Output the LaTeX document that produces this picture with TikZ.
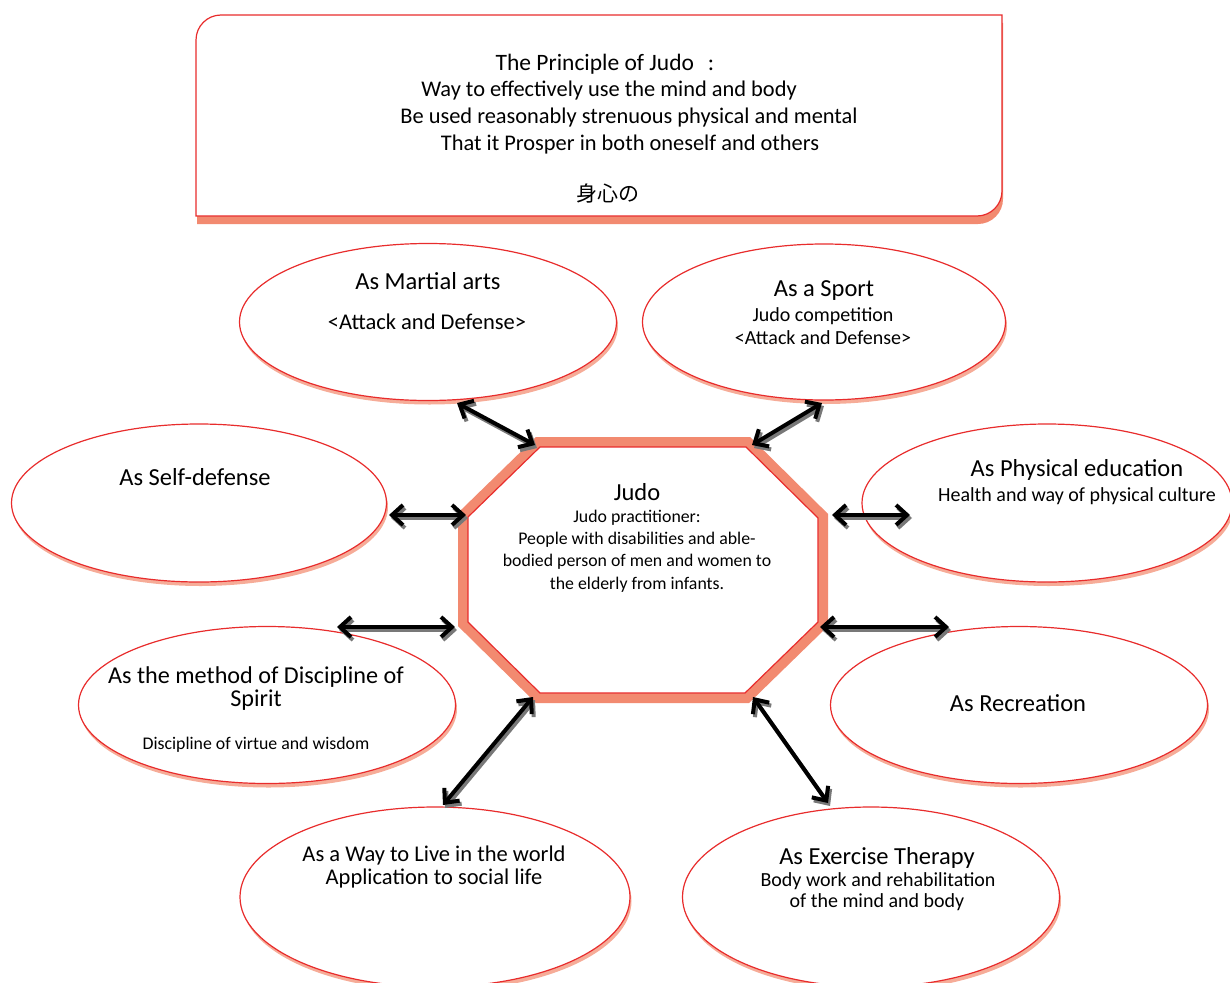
\documentclass[tikz,border=0pt]{standalone}
\usepackage{fontspec}
\setmainfont{Carlito}
\newfontfamily\cjk{Noto Sans CJK JP}
\usetikzlibrary{shapes.geometric,arrows.meta,shadows}
\definecolor{salmon}{RGB}{242,138,112}
\definecolor{shadowsalmon}{RGB}{246,172,152}
\definecolor{redline}{RGB}{232,44,44}
\definecolor{arrgray}{RGB}{120,120,120}
\tikzset{
 ell/.style={ellipse, draw=redline, line width=1.2pt, fill=white, inner sep=0pt,
   drop shadow={shadow xshift=1.5pt, shadow yshift=-4pt, fill=shadowsalmon, opacity=1}},
 head/.style={font=\fontsize{22.4}{26}\selectfont, inner sep=0pt, anchor=center},
 big/.style={font=\fontsize{24.5}{28}\selectfont, inner sep=0pt, anchor=center},
 mid/.style={font=\fontsize{20}{24}\selectfont, inner sep=0pt, anchor=center},
 sml/.style={font=\fontsize{17.8}{21}\selectfont, inner sep=0pt, anchor=center},
 biarrow/.style={line width=4pt, {Straight Barb[length=11pt,width=20pt]}-{Straight Barb[length=11pt,width=20pt]}},
 arrshade/.style={biarrow, draw=arrgray},
}
\newcommand\twoway[2]{%
 \draw[arrshade, transform canvas={shift={(2pt,-3pt)}}] (#1) -- (#2);
 \draw[biarrow] (#1) -- (#2);}
\begin{document}
\begin{tikzpicture}[x=1pt,y=-1pt]
\useasboundingbox (0,0) rectangle (1230,982);
% top box
\begin{scope}[shift={(1,8)}]
\fill[salmon] (196,216) -- (196,40) .. controls (196,26.2) and (207.2,15) .. (221,15) -- (1002,15) -- (1002,191) .. controls (1002,204.8) and (990.8,216) .. (977,216) -- cycle;
\end{scope}
\draw[redline, line width=1.2pt, fill=white] (196,216) -- (196,40) .. controls (196,26.2) and (207.2,15) .. (221,15) -- (1002,15) -- (1002,191) .. controls (1002,204.8) and (990.8,216) .. (977,216) -- cycle;
\node[head, font=\fontsize{23.5}{26}\selectfont] (p1) at (605,64) {The Principle of Judo\hspace{14pt}:};
\node[head] (p2) at (609,91) {Way to effectively use the mind and body};
\node[head] (p3) at (629,118) {Be used reasonably strenuous physical and mental};
\node[head] (p4) at (630,145) {That it Prosper in both oneself and others};
\node[head, font=\cjk\fontsize{21}{24}\selectfont] (p5) at (608,193) {身心の};
% ellipses
\node[ell, minimum width=377, minimum height=157] (ma) at (428,322) {};
\node[ell, minimum width=363, minimum height=156] (sp) at (824,322) {};
\node[ell, minimum width=375, minimum height=158] (sd) at (199,503) {};
\node[ell, minimum width=370, minimum height=158] (pe) at (1047,503) {};
\node[ell, minimum width=377, minimum height=157] (di) at (267,705) {};
\node[ell, minimum width=377, minimum height=157] (re) at (1019,705) {};
\node[ell, minimum width=390, minimum height=180] (wl) at (435,897) {};
\node[ell, minimum width=377, minimum height=180] (et) at (871,897) {};
% ellipse texts
\node[big] (ma1) at (428,281) {As Martial arts};
\node[mid, font=\fontsize{22.5}{26}\selectfont] (ma2) at (427,322) {<Attack and Defense>};
\node[big] (sp1) at (824,291) {As a Sport};
\node[mid] (sp2) at (823,316) {Judo competition};
\node[mid] (sp3) at (823,338) {<Attack and Defense>};
\node[big] (sd1) at (195,477) {As Self-defense};
\node[big] (pe1) at (1077,470) {As Physical education};
\node[mid] (pe2) at (1077,496) {Health and way of physical culture};
\node[big, align=center, font=\fontsize{24.2}{23}\selectfont] (di1) at (256,689) {As the method of Discipline of\\Spirit};
\node[sml] (di3) at (256,745) {Discipline of virtue and wisdom};
\node[big] (re1) at (1018,703) {As Recreation};
\node[big, align=center, font=\fontsize{22.5}{22.5}\selectfont] (wl1) at (434,867) {As a Way to Live in the world\\Application to social life};
\node[big] (et1) at (877,858) {As Exercise Therapy};
\node[mid] (et2) at (878,881) {Body work and rehabilitation};
\node[mid] (et3) at (877,902) {of the mind and body};
% octagon
\draw[salmon, line width=10pt, line join=miter] (538,442) -- (748,442) -- (823,516) -- (823,624) -- (747,698) -- (538,698) -- (463,624) -- (463,515) -- cycle;
\draw[redline, line width=1.2pt, fill=white] (540,447) -- (746,447) -- (818,518) -- (818,622) -- (745,693) -- (540,693) -- (468,622) -- (468,517) -- cycle;
\node[big] (j1) at (637,492) {Judo};
\node[sml] (j2) at (637,518) {Judo practitioner:};
\node[sml] (j3) at (637,540) {People with disabilities and able-};
\node[sml] (j4) at (637,562) {bodied person of men and women to};
\node[sml] (j5) at (637,585) {the elderly from infants.};
% arrows
\coordinate (a1) at (457,403); \coordinate (a2) at (535,445);
\coordinate (b1) at (822,403); \coordinate (b2) at (752,445);
\coordinate (c1) at (389,515); \coordinate (c2) at (466,515);
\coordinate (d1) at (832,515); \coordinate (d2) at (910,515);
\coordinate (e1) at (337,627); \coordinate (e2) at (455,627);
\coordinate (f1) at (820,627); \coordinate (f2) at (949,627);
\coordinate (g1) at (533,697); \coordinate (g2) at (443,805);
\coordinate (h1) at (753,697); \coordinate (h2) at (828,803);
\twoway{a1}{a2}
\twoway{b1}{b2}
\twoway{c1}{c2}
\twoway{d1}{d2}
\twoway{e1}{e2}
\twoway{f1}{f2}
\twoway{g1}{g2}
\twoway{h1}{h2}
\end{tikzpicture}
\end{document}
